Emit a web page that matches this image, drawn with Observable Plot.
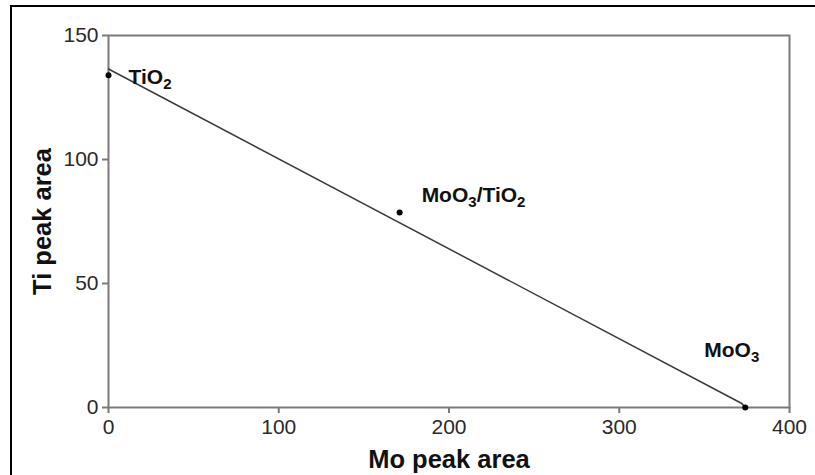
<!DOCTYPE html>
<html>
<head>
<meta charset="utf-8">
<script src="https://cdn.jsdelivr.net/npm/d3@7"></script>
<script src="https://cdn.jsdelivr.net/npm/@observablehq/plot@0.6"></script>
<style>
  html, body { margin: 0; padding: 0; background: white; }
  #wrap { position: relative; width: 815px; height: 475px; overflow: hidden; }
  #border { position: absolute; left: 10px; top: 5px; width: 900px; height: 600px;
            border: 2.5px solid #000; pointer-events: none; }
</style>
</head>
<body>
<div id="wrap"><div id="chart"></div><div id="border"></div></div>
<script>
// Sample points (Mo peak area, Ti peak area)
const samples = ["TiO2", "MoO3/TiO2", "MoO3"];
const moArea = [0, 171, 374];
const tiArea = [134, 78.6, 0];
// Straight trend line drawn through the samples
const lineMo = [0, 372, 374];
const lineTi = [136.5, 1.6, 0];
// Axis ticks
const xTicks = [0, 100, 200, 300, 400];
const yTicks = [0, 50, 100, 150];
// Label offsets (px) for each sample label
const labelDx = [20, 22, -41];
const labelDy = [2, -17, -57];

const points = samples.map((s, i) => ({name: s, mo: moArea[i], ti: tiArea[i], dx: labelDx[i], dy: labelDy[i]}));
const trend = lineMo.map((m, i) => ({mo: m, ti: lineTi[i]}));

const plot = Plot.plot({
  width: 815,
  height: 475,
  marginLeft: 108,
  marginRight: 26,
  marginTop: 35,
  marginBottom: 68,
  style: {fontFamily: "'Liberation Sans', Arial, sans-serif", background: "transparent", color: "#2a2a2a"},
  x: {domain: [0, 400]},
  y: {domain: [0, 150]},
  marks: [
    Plot.frame({stroke: "#7a7a7a", strokeWidth: 2}),
    Plot.axisX({ticks: xTicks, tickSize: 6, tickPadding: 6, fontSize: 21, stroke: "#7a7a7a", strokeWidth: 2,
      label: "Mo peak area", labelAnchor: "center", labelArrow: "none", labelOffset: 60}),
    Plot.axisY({ticks: yTicks, tickSize: 6, tickPadding: 4, fontSize: 21, stroke: "#7a7a7a", strokeWidth: 2,
      label: "Ti peak area", labelAnchor: "center", labelArrow: "none", labelOffset: 76}),
    Plot.line(trend, {x: "mo", y: "ti", stroke: "#3a3a3a", strokeWidth: 1.5}),
    Plot.dot(points, {x: "mo", y: "ti", r: 3, fill: "#000", stroke: "none"}),
    ...points.map(p => Plot.text([p], {x: "mo", y: "ti", text: "name", dx: p.dx, dy: p.dy,
      textAnchor: "start", fontSize: 21, fontWeight: "bold", fill: "#111", className: "sample-label"}))
  ]
});

// Axis title styling
d3.select(plot).selectAll("g[aria-label='x-axis label'] text, g[aria-label='y-axis label'] text")
  .attr("font-size", 25.5).attr("font-weight", "bold").attr("fill", "#111");

// Turn digits in chemical formulas into subscripts
d3.select(plot).selectAll(".sample-label text").each(function() {
  const t = d3.select(this);
  const s = t.text();
  t.text("");
  const parts = s.split(/(\d)/).filter(x => x.length);
  let shifted = false;
  parts.forEach(part => {
    if (/^\d$/.test(part)) {
      t.append("tspan").attr("font-size", 15).attr("dy", 5).text(part);
      shifted = true;
    } else {
      const ts = t.append("tspan").text(part);
      if (shifted) { ts.attr("dy", -5); shifted = false; }
    }
  });
});

document.getElementById("chart").appendChild(plot);
</script>
</body>
</html>
